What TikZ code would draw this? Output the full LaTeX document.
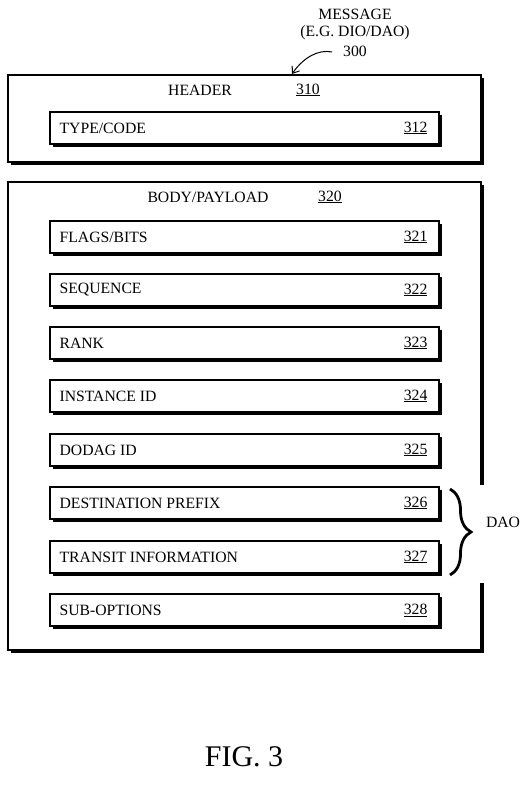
\documentclass[tikz,border=0pt]{standalone}
\usepackage{fontspec}
\setmainfont{Liberation Serif}
\usetikzlibrary{shadows,decorations.pathreplacing,arrows.meta}
\begin{document}
\begin{tikzpicture}[x=1pt,y=-1pt,
  txt/.style={font=\fontsize{15.7}{18}\selectfont, inner sep=0pt},
  shbox/.style={draw=black, line width=1.2pt, fill=white, inner sep=0pt,
    drop shadow={shadow xshift=2.6pt, shadow yshift=-2.6pt, opacity=1, fill=black}},
  outerbox/.style={shbox, minimum width=473pt},
  fieldbox/.style={shbox, minimum width=389pt, minimum height=32pt}
]
\useasboundingbox (0,0) rectangle (525,786);

% header
\node[outerbox, minimum height=87pt] (hdr) at (244.5,118.5) {};
\node[txt] (hdrt) at (200,90) {HEADER};
\node[txt] (hdrn) at (308,90) {\underline{310}};
\node[fieldbox] (f312) at (244.5,128) {};
\node[txt, anchor=west] at ([xshift=10pt]f312.west) {TYPE/CODE};
\node[txt, anchor=east] at ([xshift=-12pt]f312.east) {\underline{312}};

% body
\node[outerbox, minimum height=468pt] (body) at (244.5,416) {};
\fill[white] (477,485) rectangle (488,583);
\node[txt] (bodyt) at (208,197) {BODY/PAYLOAD};
\node[txt] (bodyn) at (330,197) {\underline{320}};

\foreach \y/\t/\n in {237/FLAGS\slash BITS/321, 290/SEQUENCE/322, 343/RANK/323,
  396/INSTANCE ID/324, 450/DODAG ID/325, 503/DESTINATION PREFIX/326,
  557/TRANSIT INFORMATION/327, 610/SUB-OPTIONS/328}{
  \node[fieldbox] (f\n) at (244.5,\y) {};
  \node[txt, anchor=west] at ([xshift=10pt]f\n.west) {\t};
  \node[txt, anchor=east] at ([xshift=-12pt]f\n.east) {\underline{\n}};
}

% brace
\coordinate (bt) at (450,489);
\coordinate (bb) at (450,575);
\draw[line width=2.8pt, decorate, decoration={brace, amplitude=21pt}] (bt) -- (bb);
\node[txt] (dao) at (503,522) {DAO};

% message label
\node[txt, align=center] (msg) at (355,24) {MESSAGE\\[-1pt](E.G. DIO/DAO)};
\node[txt] (m300) at (355,51) {300};
\coordinate (tip) at (292,74);
\draw[line width=1pt, -{Straight Barb[length=6pt,width=9pt]}] ([xshift=-11pt,yshift=-1pt]m300.west) .. controls (318,49) and (303,58) .. (tip);

% figure label
\node[font=\fontsize{30}{34}\selectfont] (fig) at (244,757) {FIG. 3};
\end{tikzpicture}
\end{document}
